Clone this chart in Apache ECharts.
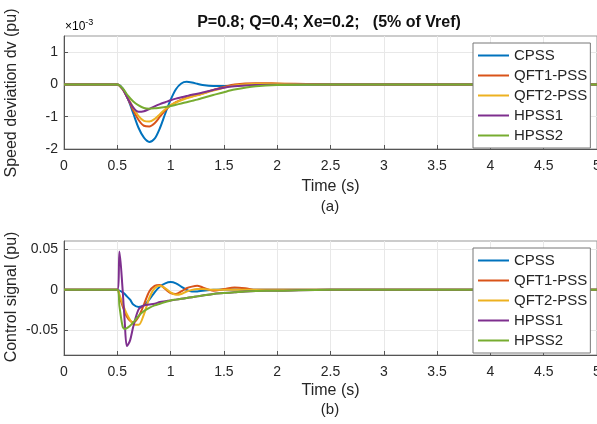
<!DOCTYPE html>
<html>
<head>
<meta charset="utf-8">
<script src="https://cdn.jsdelivr.net/npm/echarts@6/dist/echarts.min.js"></script>
<style>
  html, body { margin: 0; padding: 0; background: #fff; }
  #chart { width: 597px; height: 424px; }
</style>
</head>
<body>
<div id="chart"></div>
<script>
const seriesNames = ["CPSS", "QFT1-PSS", "QFT2-PSS", "HPSS1", "HPSS2"];
const colors = ["#0072BD", "#D95319", "#EDB120", "#7E2F8E", "#77AC30"];

// (a) speed deviation, in units of 1e-3 pu
const timeA = [0, 0.5, 0.55, 0.6, 0.65, 0.7, 0.75, 0.8, 0.85, 0.9, 0.95, 1.0, 1.05, 1.1, 1.15, 1.2, 1.25, 1.3, 1.4, 1.5, 1.6, 1.8, 2.0, 2.5, 3, 5];
const cpssA = [0, 0, -0.12, -0.45, -0.9, -1.35, -1.65, -1.78, -1.68, -1.35, -0.9, -0.48, -0.15, 0.03, 0.08, 0.06, 0.02, -0.02, -0.05, -0.05, -0.03, -0.01, 0, 0, 0, 0];
const qft1A = [0, 0, -0.15, -0.45, -0.8, -1.1, -1.28, -1.3, -1.2, -1.0, -0.8, -0.65, -0.55, -0.47, -0.41, -0.37, -0.33, -0.28, -0.17, -0.08, 0, 0.04, 0.03, 0, 0, 0];
const qft2A = [0, 0, -0.14, -0.42, -0.72, -0.98, -1.13, -1.15, -1.07, -0.92, -0.77, -0.65, -0.56, -0.49, -0.43, -0.38, -0.34, -0.29, -0.19, -0.1, -0.03, 0.02, 0.02, 0, 0, 0];
const hpss1A = [0, 0, -0.15, -0.45, -0.72, -0.85, -0.83, -0.76, -0.68, -0.61, -0.55, -0.49, -0.44, -0.4, -0.36, -0.32, -0.29, -0.25, -0.17, -0.1, -0.06, -0.02, -0.01, 0, 0, 0];
const hpss2A = [0, 0, -0.12, -0.35, -0.53, -0.65, -0.73, -0.75, -0.74, -0.72, -0.7, -0.67, -0.63, -0.59, -0.55, -0.51, -0.47, -0.42, -0.33, -0.24, -0.16, -0.06, -0.02, 0, 0, 0];
const yTicksA = [-2, -1, 0, 1];

// (b) control signal, pu
const timeB = [0, 0.5, 0.52, 0.55, 0.57, 0.59, 0.62, 0.65, 0.7, 0.75, 0.8, 0.85, 0.9, 0.95, 1.0, 1.05, 1.1, 1.15, 1.2, 1.25, 1.3, 1.4, 1.5, 1.6, 1.7, 1.8, 2.0, 2.5, 3, 5];
const cpssB = [0, 0, -0.001, -0.003, -0.005, -0.008, -0.012, -0.018, -0.021, -0.019, -0.012, -0.003, 0.004, 0.008, 0.0095, 0.008, 0.004, 0, -0.002, -0.002, -0.001, 0, 0.0005, 0.0005, 0, 0, 0, 0, 0, 0];
const qft1B = [0, 0, -0.008, -0.02, -0.027, -0.033, -0.038, -0.04, -0.033, -0.018, -0.002, 0.005, 0.006, 0.001, -0.004, -0.005, -0.002, 0.002, 0.004, 0.005, 0.003, -0.001, 0.001, 0.003, 0.002, 0, 0, 0, 0, 0];
const qft2B = [0, 0, -0.006, -0.017, -0.024, -0.03, -0.037, -0.042, -0.043, -0.03, -0.01, 0.002, 0.005, 0.002, -0.003, -0.006, -0.005, -0.002, 0, 0.001, 0.001, 0, 0, 0, 0, 0, 0, 0, 0, 0];
const hpss1B = [0, 0, 0.047, 0, -0.04, -0.069, -0.062, -0.045, -0.024, -0.019, -0.018, -0.017, -0.015, -0.014, -0.013, -0.012, -0.011, -0.01, -0.009, -0.008, -0.007, -0.005, -0.004, -0.003, -0.002, -0.0015, -0.001, 0, 0, 0];
const hpss2B = [0, 0, -0.02, -0.045, -0.048, -0.047, -0.044, -0.04, -0.032, -0.026, -0.022, -0.019, -0.017, -0.015, -0.013, -0.012, -0.011, -0.01, -0.009, -0.008, -0.007, -0.005, -0.004, -0.003, -0.002, -0.0015, -0.001, 0, 0, 0];
const yTicksB = [-0.05, 0, 0.05];

const dataA = [cpssA, qft1A, qft2A, hpss1A, hpss2A];
const dataB = [cpssB, qft1B, qft2B, hpss1B, hpss2B];

const font = "'Liberation Sans', Arial, sans-serif";
const textColor = "#262626";

function xAxisFor(gridIndex) {
    return {
        type: "value", gridIndex: gridIndex, min: 0, max: 5, interval: 0.5,
        name: "Time (s)", nameLocation: "middle", nameGap: gridIndex === 0 ? 30 : 28,
        nameTextStyle: { fontFamily: font, fontSize: 16, color: textColor },
        axisLine: { onZero: false, lineStyle: { color: "#555" } },
        axisTick: { inside: true, length: 4, lineStyle: { color: "#555" } },
        axisLabel: { fontFamily: font, fontSize: 14, color: textColor, margin: 10, hideOverlap: false },
        splitLine: { show: true, lineStyle: { color: "#e8e8e8" } }
    };
}

function yAxisFor(gridIndex, min, max, ticks) {
    return {
        type: "value", gridIndex: gridIndex, min: min, max: max,
        axisLine: { show: true, onZero: false, lineStyle: { color: "#555" } },
        axisTick: { show: true, inside: true, length: 4, customValues: ticks, lineStyle: { color: "#555" } },
        axisLabel: { fontFamily: font, fontSize: 14, color: textColor, margin: 6, customValues: ticks },
        splitLine: { show: true, lineStyle: { color: "#e8e8e8" } }
    };
}

function legendFor(top) {
    return {
        orient: "vertical", left: 473, top: top,
        data: seriesNames,
        itemWidth: 31, itemHeight: 14, itemGap: 5,
        padding: [5, 3, 5, 4],
        borderColor: "#777", borderWidth: 1, borderRadius: 0,
        backgroundColor: "#fff",
        itemStyle: { opacity: 0 },
        lineStyle: { width: 2 },
        textStyle: { fontFamily: font, fontSize: 15, color: textColor }
    };
}

const series = [];
seriesNames.forEach((name, i) => {
    series.push({
        name: name, type: "line", xAxisIndex: 0, yAxisIndex: 0,
        data: timeA.map((t, k) => [t, dataA[i][k]]),
        smooth: 0.3, showSymbol: false, symbol: "none",
        lineStyle: { width: 2, color: colors[i] }, itemStyle: { color: colors[i] }
    });
});
seriesNames.forEach((name, i) => {
    series.push({
        name: name, type: "line", xAxisIndex: 1, yAxisIndex: 1,
        data: timeB.map((t, k) => [t, dataB[i][k]]),
        smooth: 0.3, showSymbol: false, symbol: "none",
        lineStyle: { width: 2, color: colors[i] }, itemStyle: { color: colors[i] }
    });
});

const chart = echarts.init(document.getElementById("chart"), null, { renderer: "canvas" });
chart.setOption({
    backgroundColor: "#fff",
    animation: false,
    grid: [
        { left: 64, right: 0, top: 36, height: 113, show: true, borderColor: "#999", borderWidth: 1, outerBoundsMode: "none" },
        { left: 64, right: 0, top: 241, height: 114, show: true, borderColor: "#999", borderWidth: 1, outerBoundsMode: "none" }
    ],
    xAxis: [xAxisFor(0), xAxisFor(1)],
    yAxis: [yAxisFor(0, -2, 1.5, yTicksA), yAxisFor(1, -0.08, 0.06, yTicksB)],
    legend: [legendFor(43), legendFor(248)],
    graphic: [
        { type: "text", x: 329, y: 23, style: { text: "P=0.8; Q=0.4; Xe=0.2;   (5% of Vref)", font: "bold 16px " + font, fill: "#111", textAlign: "center", textVerticalAlign: "middle" } },
        { type: "text", x: 65, y: 27, style: { text: "{a|×10}{b|-3}", textVerticalAlign: "middle", rich: { a: { fontFamily: font, fontSize: 12, color: "#444" }, b: { fontFamily: font, fontSize: 9, color: "#444", verticalAlign: "top", padding: [0, 0, 8, 0] } } } },
        { type: "text", x: 12, y: 93, rotation: Math.PI / 2, style: { text: "Speed deviation dv (pu)", fontFamily: font, fontSize: 16, fill: textColor, textAlign: "center", textVerticalAlign: "middle" } },
        { type: "text", x: 12, y: 297, rotation: Math.PI / 2, style: { text: "Control signal (pu)", fontFamily: font, fontSize: 16, fill: textColor, textAlign: "center", textVerticalAlign: "middle" } },
        { type: "text", x: 330, y: 207, style: { text: "(a)", fontFamily: font, fontSize: 15, fill: textColor, textAlign: "center", textVerticalAlign: "middle" } },
        { type: "text", x: 330, y: 410, style: { text: "(b)", fontFamily: font, fontSize: 15, fill: textColor, textAlign: "center", textVerticalAlign: "middle" } }
    ],
    series: series
});
</script>
</body>
</html>
